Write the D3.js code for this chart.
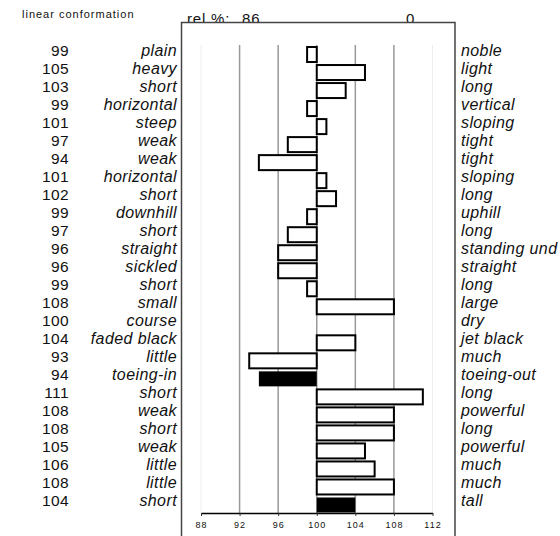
<!DOCTYPE html>
<html>
<head>
<meta charset="utf-8">
<script src="https://cdn.jsdelivr.net/npm/d3@7"></script>
<style>
body { margin: 0; background: #fff; }
text { font-family: "Liberation Sans", Arial, sans-serif; fill: #111; }
.lbl { font-style: italic; }
</style>
</head>
<body>
<svg id="chart" width="560" height="536"></svg>
<script>
// values (rel. % per trait, 100 = population mean)
var values = [99,105,103,99,101,97,94,101,102,99,97,96,96,99,108,100,104,93,94,111,108,108,105,106,108,104]
var leftLabels = ['plain','heavy','short','horizontal','steep','weak','weak','horizontal','short','downhill',
	'short','straight','sickled','short','small','course','faded black','little','toeing-in','short',
	'weak','short','weak','little','little','short']
var rightLabels = ['noble','light','long','vertical','sloping','tight','tight','sloping','long','uphill',
	'long','standing und','straight','long','large','dry','jet black','much','toeing-out','long',
	'powerful','long','powerful','much','much','tall']
var filledRows = [18, 25]
var tickValues = [88,92,96,100,104,108,112]

var svg = d3.select('#chart')

var x = d3.scaleLinear()
	.domain([88,112])
	.range([201, 432.5])

var y = d3.scaleBand()
	.domain(d3.range(values.length))
	.range([45.5, 514])

var frame = { left: 181.5, right: 455, top: 22.5, bottom: 545 }

// header texts (partly covered by the frame, as in the original)
svg.append('text')
	.attr('x', 22).attr('y', 18)
	.style('font-size', '11px')
	.style('letter-spacing', '1px')
	.text('linear conformation')

svg.append('text')
	.attr('x', 187).attr('y', 24)
	.style('font-size', '15px')
	.style('letter-spacing', '0.8px')
	.text('rel %:')

svg.append('text')
	.attr('x', 242).attr('y', 24)
	.style('font-size', '15px')
	.style('letter-spacing', '0.8px')
	.text('86')

svg.append('text')
	.attr('x', 406).attr('y', 24)
	.style('font-size', '15px')
	.text('0')

svg.append('rect')
	.attr('x', frame.left).attr('y', frame.top)
	.attr('width', frame.right - frame.left)
	.attr('height', frame.bottom - frame.top)
	.attr('fill', '#fff')
	.attr('stroke', '#444')
	.attr('stroke-width', 1.5)

// grid
svg.append('g').selectAll('line')
	.data(tickValues)
	.enter().append('line')
	.attr('x1', function(d) { return x(d) })
	.attr('x2', function(d) { return x(d) })
	.attr('y1', 45)
	.attr('y2', y.range()[1] - 1)
	.attr('stroke', function(d) { return (d == 88 || d == 112) ? '#eee' : '#999' })
	.attr('stroke-width', function(d) { return (d == 88 || d == 112) ? 1 : 1.5 })

// bars
var barH = 15
svg.append('g').selectAll('rect')
	.data(values)
	.enter().append('rect')
	.attr('x', function(d) { return x(Math.min(d, 100)) })
	.attr('width', function(d) { return Math.abs(x(d) - x(100)) })
	.attr('y', function(d,i) { return y(i) + (y.step() - barH)/2 })
	.attr('height', barH)
	.attr('fill', function(d,i) { return filledRows.indexOf(i) > -1 ? '#000' : '#fff' })
	.attr('stroke', '#000')
	.attr('stroke-width', function(d,i) { return filledRows.indexOf(i) > -1 ? 0 : 2 })

// axis
var axis = d3.axisBottom(x)
	.tickValues(tickValues)
	.tickSizeInner(3)
	.tickSizeOuter(0)
	.tickPadding(6)

var ax = svg.append('g')
	.attr('transform', 'translate(0,' + (y.range()[1] - 1) + ')')
	.call(axis)

ax.select('.domain').attr('stroke', '#000').attr('stroke-width', 1.5)
ax.selectAll('.tick line').attr('stroke', '#333')
ax.selectAll('.tick text')
	.style('font-family', '"Liberation Sans", Arial, sans-serif')
	.style('font-size', '9px')
	.style('letter-spacing', '1px')
	.attr('fill', '#333')

// row texts
var rowY = function(i) { return y(i) + y.bandwidth()/2 + 1.5 }

svg.append('g').selectAll('text')
	.data(values)
	.enter().append('text')
	.attr('x', 69)
	.attr('y', function(d,i) { return rowY(i) })
	.attr('text-anchor', 'end')
	.style('font-size', '15.5px')
	.style('letter-spacing', '0.4px')
	.text(function(d) { return d })

svg.append('g').selectAll('text')
	.data(leftLabels)
	.enter().append('text')
	.attr('class', 'lbl')
	.attr('x', 177)
	.attr('y', function(d,i) { return rowY(i) })
	.attr('text-anchor', 'end')
	.style('font-size', '16px')
	.style('letter-spacing', '0.4px')
	.text(function(d) { return d })

svg.append('g').selectAll('text')
	.data(rightLabels)
	.enter().append('text')
	.attr('class', 'lbl')
	.attr('x', 461)
	.attr('y', function(d,i) { return rowY(i) })
	.style('font-size', '16px')
	.style('letter-spacing', '0.4px')
	.text(function(d) { return d })
</script>
</body>
</html>
